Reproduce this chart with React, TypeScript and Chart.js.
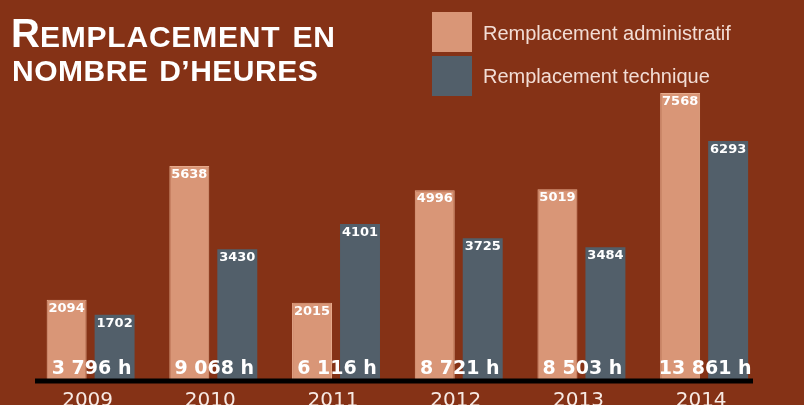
import React, { useEffect, useRef } from "react";
import { Chart, registerables } from "chart.js";
Chart.register(...registerables);

const years = ["2009", "2010", "2011", "2012", "2013", "2014"];
const adminHours = [2094, 5638, 2015, 4996, 5019, 7568];
const techHours = [1702, 3430, 4101, 3725, 3484, 6293];
const seriesNames = ["Remplacement administratif", "Remplacement technique"];

const BG = "#853216";
const ADMIN = "#D99677";
const TECH = "#525F6A";
const LEGEND_TEXT = "#F2DDD5";

const fmt = (n: number) => String(n).replace(/\B(?=(\d{3})+(?!\d))/g, " ") + " h";

const overlay = {
  id: "overlay",
  afterDatasetsDraw(chart: any) {
    const ctx = chart.ctx;
    const xs = chart.scales.x;
    const ys = chart.scales.y;
    const base = ys.getPixelForValue(0);
    const cat = xs.getPixelForValue(1) - xs.getPixelForValue(0);
    ctx.save();
    // values on bars
    ctx.font = "bold 13px 'DejaVu Sans'";
    ctx.fillStyle = "#FFFFFF";
    ctx.textAlign = "center";
    ctx.textBaseline = "middle";
    chart.data.datasets.forEach((ds: any, di: number) => {
      const meta = chart.getDatasetMeta(di);
      meta.data.forEach((bar: any, i: number) => {
        ctx.fillText(String(ds.data[i]), bar.x, bar.y + 8.5);
      });
    });
    // totals
    ctx.font = "bold 19px 'DejaVu Sans'";
    ctx.textBaseline = "alphabetic";
    years.forEach((_, i) => {
      const cx = xs.getPixelForValue(i);
      ctx.fillText(fmt(adminHours[i] + techHours[i]), cx + 1, base - 5);
    });
    // baseline
    const left = xs.getPixelForValue(0) - cat * 0.453;
    const right = xs.getPixelForValue(years.length - 1) + cat * 0.398;
    ctx.fillStyle = "#000000";
    ctx.fillRect(left, base - 0.5, right - left, 5);
    // years
    ctx.font = "20px 'DejaVu Sans'";
    ctx.fillStyle = "#F7E9E3";
    years.forEach((yr, i) => {
      ctx.fillText(yr, xs.getPixelForValue(i) - 3, base + 27);
    });
    ctx.restore();
  },
};

export default function App() {
  const ref = useRef<HTMLCanvasElement>(null);
  useEffect(() => {
    if (!ref.current) return;
    const chart = new Chart(ref.current, {
      type: "bar",
      data: {
        labels: years,
        datasets: [
          {
            label: seriesNames[0],
            data: adminHours,
            backgroundColor: ADMIN,
            borderColor: "#E6AA8C",
            borderWidth: 1,
            categoryPercentage: 0.782,
            barPercentage: 0.833,
          },
          {
            label: seriesNames[1],
            data: techHours,
            backgroundColor: TECH,
            borderWidth: 0,
            categoryPercentage: 0.782,
            barPercentage: 0.833,
          },
        ],
      },
      options: {
        responsive: false,
        animation: false,
        layout: { padding: { top: 76.6, bottom: 26, left: 29.25, right: 38.5 } },
        scales: {
          x: { display: false },
          y: { display: false, min: 0, max: 8000 },
        },
        plugins: {
          legend: { display: false },
          tooltip: { enabled: false },
          title: { display: false },
        },
      },
      plugins: [overlay],
    });
    return () => chart.destroy();
  }, []);

  const titleFont = "'Liberation Sans', Arial, sans-serif";
  return (
    <div
      style={{
        position: "absolute",
        left: 0,
        top: 0,
        width: 804,
        height: 405,
        background: BG,
        overflow: "hidden",
      }}
    >
      <canvas ref={ref} width={804} height={405} style={{ display: "block", position: "absolute", left: 0, top: 0 }} />
      <div
        style={{
          position: "absolute",
          left: 11,
          top: 12.8,
          fontFamily: titleFont,
          fontWeight: "bold",
          color: "#FFFFFF",
          fontSize: 40,
          lineHeight: "40px",
          whiteSpace: "nowrap",
        }}
      >
        <span>R</span>
        <span style={{ fontSize: 30, letterSpacing: "0.8px", wordSpacing: "3px" }}>EMPLACEMENT EN</span>
      </div>
      <div
        style={{
          position: "absolute",
          left: 12,
          top: 56.3,
          fontFamily: titleFont,
          fontWeight: "bold",
          color: "#FFFFFF",
          fontSize: 30,
          lineHeight: "30px",
          letterSpacing: "0.5px",
          wordSpacing: "2px",
          whiteSpace: "nowrap",
        }}
      >
        NOMBRE D’HEURES
      </div>
      {seriesNames.map((name, i) => (
        <React.Fragment key={name}>
          <div
            style={{
              position: "absolute",
              left: 432,
              top: i === 0 ? 12 : 56,
              width: 40,
              height: 40,
              background: i === 0 ? ADMIN : TECH,
            }}
          />
          <div
            style={{
              position: "absolute",
              left: 483,
              top: i === 0 ? 23.1 : 65.8,
              fontFamily: titleFont,
              fontSize: 20,
              lineHeight: "20px",
              color: LEGEND_TEXT,
              whiteSpace: "nowrap",
            }}
          >
            {name}
          </div>
        </React.Fragment>
      ))}
    </div>
  );
}
